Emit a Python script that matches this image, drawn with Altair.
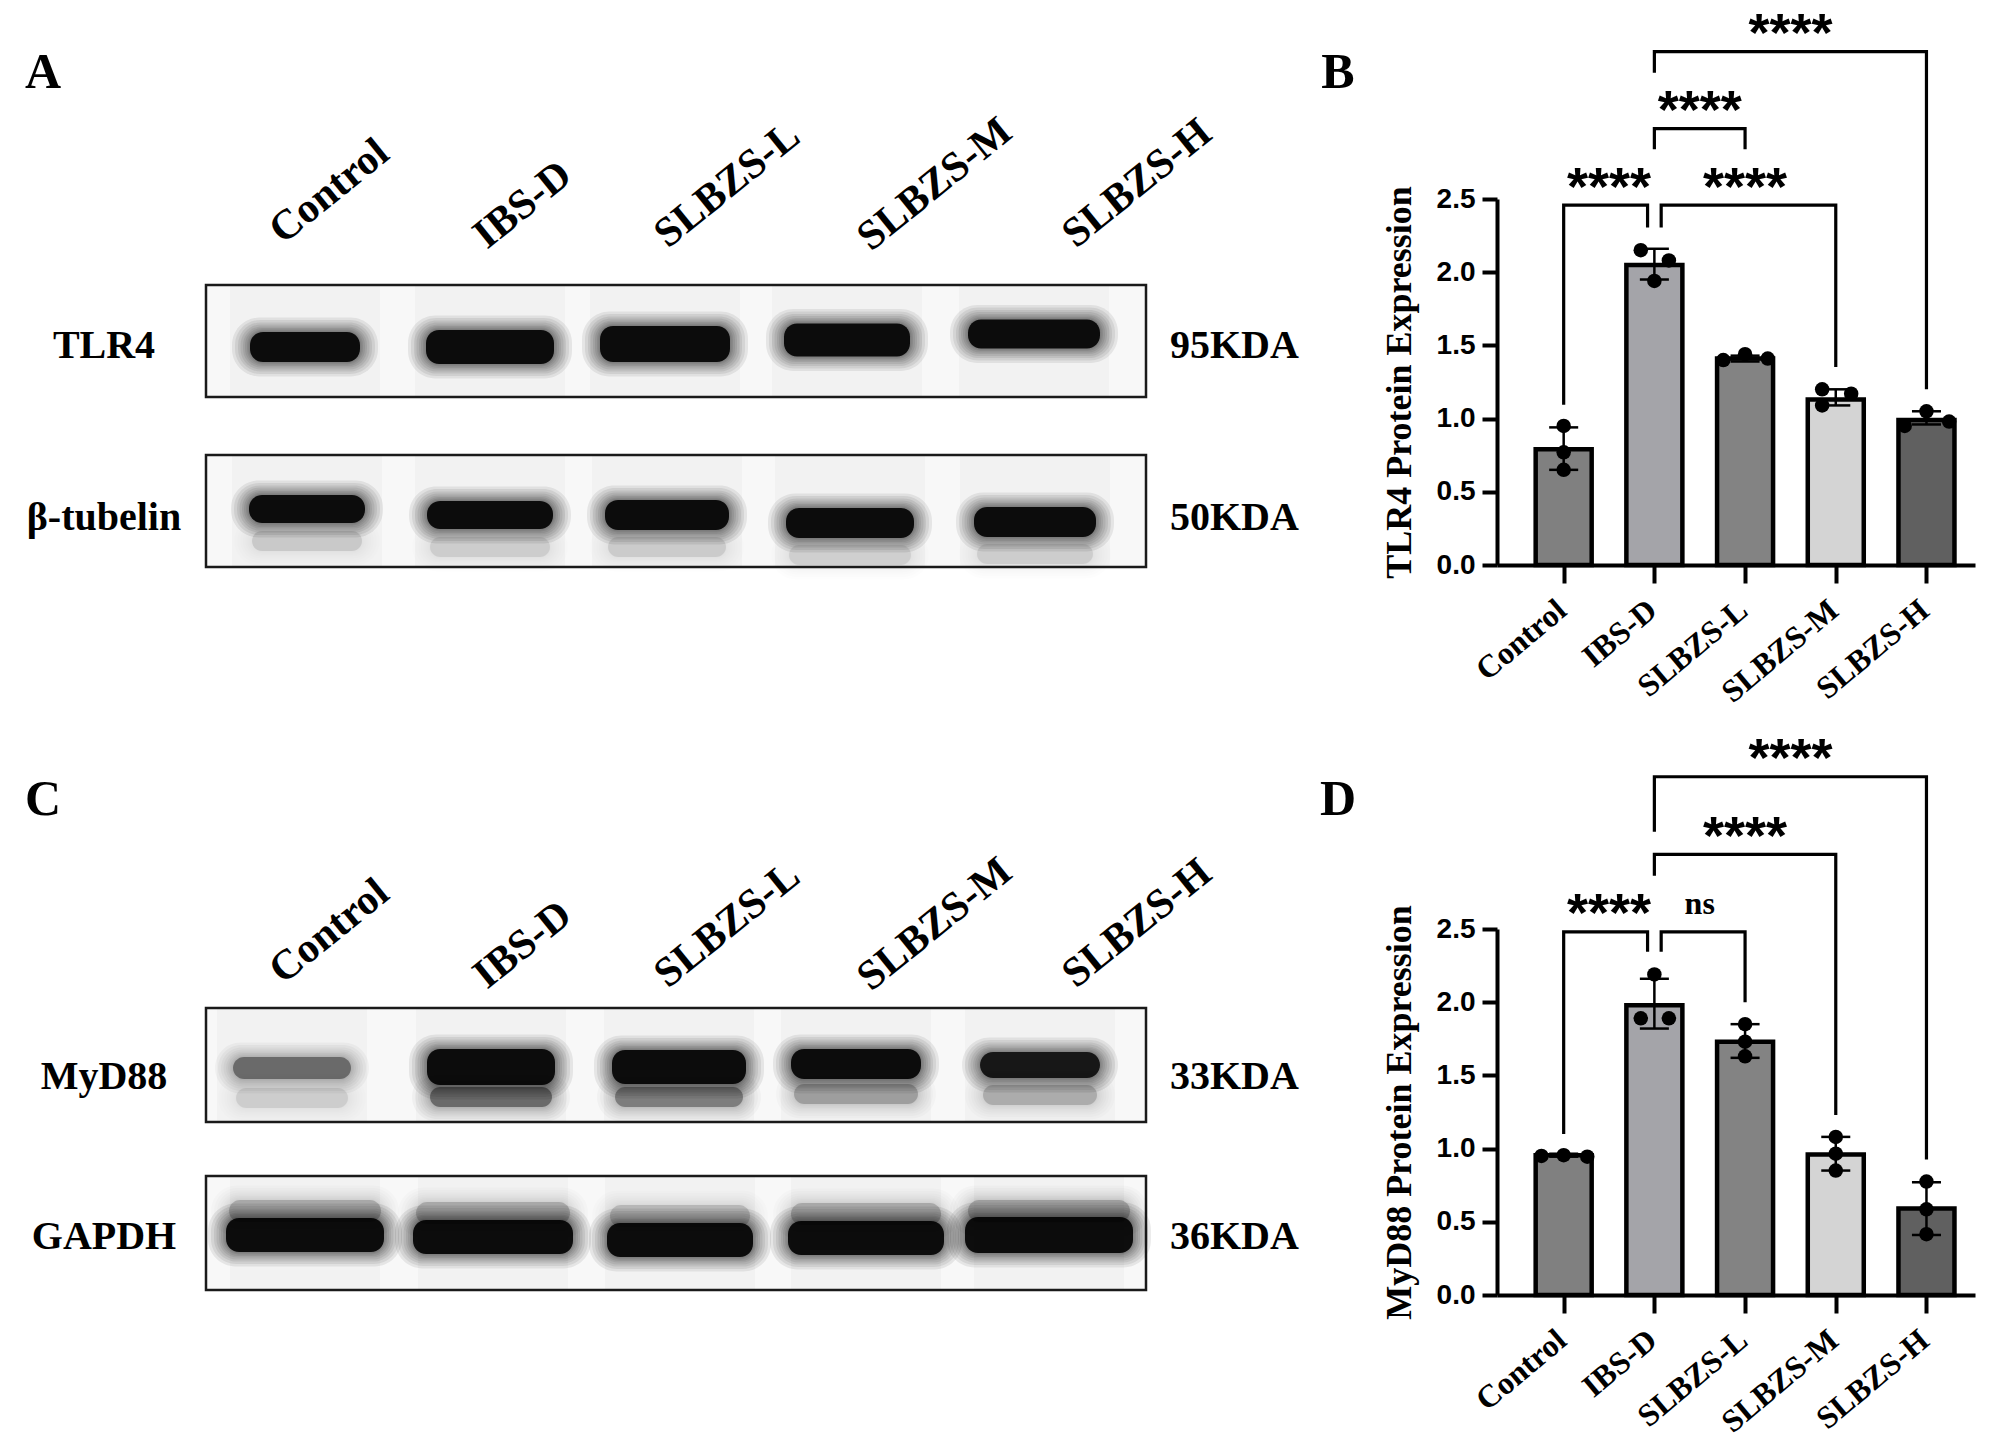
import altair as alt
import pandas as pd

# ---------------- data ----------------
groups = ["Control", "IBS-D", "SLBZS-L", "SLBZS-M", "SLBZS-H"]
bar_colors = ["#808080", "#a4a4a9", "#838383", "#d4d4d4", "#606060"]

tlr4_mean = [0.79, 2.05, 1.41, 1.13, 0.99]
tlr4_err_low = [0.65, 1.95, 1.39, 1.09, 0.96]
tlr4_err_high = [0.94, 2.16, 1.43, 1.20, 1.05]
tlr4_points = [[0.95, 0.77, 0.65], [2.15, 2.08, 1.94], [1.40, 1.44, 1.41],
               [1.20, 1.17, 1.09], [1.05, 0.95, 0.98]]
tlr4_spread = [[0, 0, 0], [-0.15, 0.16, 0], [-0.24, 0, 0.25],
               [-0.15, 0.17, -0.15], [0, -0.24, 0.25]]

myd88_mean = [0.955, 1.98, 1.73, 0.96, 0.59]
myd88_err_low = [0.945, 1.82, 1.62, 0.85, 0.41]
myd88_err_high = [0.965, 2.16, 1.85, 1.08, 0.77]
myd88_points = [[0.95, 0.955, 0.945], [2.19, 1.89, 1.89], [1.85, 1.73, 1.63],
                [1.08, 0.965, 0.85], [0.775, 0.585, 0.415]]
myd88_spread = [[-0.245, 0, 0.26], [0, -0.15, 0.16], [0, 0, 0], [0, 0, 0], [0, 0, 0]]

# comparisons: group a, group b, bracket level, leg end a, leg end b, label
tlr4_sig_a = [0, 1, 1, 1]
tlr4_sig_b = [1, 3, 2, 4]
tlr4_sig_level = [2.458, 2.458, 2.981, 3.506]
tlr4_sig_leg_a = [1.095, 2.306, 2.84, 3.363]
tlr4_sig_leg_b = [2.306, 1.352, 2.84, 1.20]
tlr4_sig_label = ["****", "****", "****", "****"]

myd88_sig_a = [0, 1, 1, 1]
myd88_sig_b = [1, 2, 3, 4]
myd88_sig_level = [2.48, 2.48, 3.01, 3.54]
myd88_sig_leg_a = [1.10, 2.344, 2.864, 3.165]
myd88_sig_leg_b = [2.344, 2.00, 1.23, 0.926]
myd88_sig_label = ["****", "ns", "****", "****"]

# blot band relative intensities (per lane)
tlr4_band = [1.0, 1.0, 1.0, 1.0, 1.0]
tubulin_band = [1.0, 1.0, 1.0, 1.0, 1.0]
tubulin_lower = [0.12, 0.10, 0.11, 0.09, 0.10]
myd88_band = [0.45, 1.0, 1.0, 1.0, 0.92]
myd88_lower = [0.10, 0.45, 0.38, 0.24, 0.20]
gapdh_band = [1.0, 1.0, 1.0, 1.0, 1.0]
gapdh_upper = [0.22, 0.22, 0.18, 0.22, 0.24]

# ---------------- layout ----------------
W_LEFT = 1469
H_LEFT = 1097
TOP = 197
XS = alt.Scale(domain=[8, 8 + W_LEFT], nice=False, zero=False)
YS = alt.Scale(domain=[TOP, TOP + H_LEFT], reverse=True, nice=False, zero=False)
SERIF = "Liberation Serif"
SANS = "Liberation Sans"

blot_rows = [
    dict(name="TLR4", kda="95KDA", box=(283, 395), label_y=342,
         cx=[305, 490, 665, 847, 1034], cy=[345, 345, 342, 338, 332],
         w=[110, 128, 130, 126, 132], h=[30, 34, 36, 33, 29], inten=tlr4_band,
         extra=None),
    dict(name="β-tubelin", kda="50KDA", box=(453, 565), label_y=514,
         cx=[307, 490, 667, 850, 1035], cy=[507, 513, 513, 521, 520],
         w=[116, 126, 124, 128, 122], h=[28, 28, 30, 30, 30], inten=tubulin_band,
         extra=(32, 20, tubulin_lower)),
    dict(name="MyD88", kda="33KDA", box=(1006, 1120), label_y=1073,
         cx=[292, 491, 679, 856, 1040], cy=[1066, 1065, 1065, 1062, 1063],
         w=[118, 128, 134, 130, 120], h=[22, 36, 34, 30, 26], inten=myd88_band,
         extra=(30, 20, myd88_lower)),
    dict(name="GAPDH", kda="36KDA", box=(1174, 1288), label_y=1233,
         cx=[305, 493, 680, 866, 1049], cy=[1233, 1235, 1238, 1236, 1233],
         w=[158, 160, 146, 156, 168], h=[34, 34, 34, 34, 36], inten=gapdh_band,
         extra=(-24, 22, gapdh_upper)),
]
BOX_X = (206, 1146)

band_rows, streak_rows, box_rows, row_text, kda_text = [], [], [], [], []
for r in blot_rows:
    y1, y2 = r["box"]
    box_rows.append(dict(x1=BOX_X[0], x2=BOX_X[1], y1=y1, y2=y2))
    row_text.append(dict(x=104, y=r["label_y"] + 14, t=r["name"]))
    kda_text.append(dict(x=1170, y=r["label_y"] + 14, t=r["kda"]))
    for i in range(5):
        streak_rows.append(dict(x1=r["cx"][i] - 75, x2=r["cx"][i] + 75, y1=y1 + 1, y2=y2 - 1))
        band_rows.append(dict(cx=r["cx"][i], cy=r["cy"][i], w=r["w"][i], h=r["h"][i],
                              inten=r["inten"][i]))
        if r["extra"] is not None:
            dy, hh, vals = r["extra"]
            band_rows.append(dict(cx=r["cx"][i], cy=r["cy"][i] + dy, w=r["w"][i] - 6,
                                  h=hh, inten=vals[i]))
bands_df = pd.DataFrame(band_rows)
streak_df = pd.DataFrame(streak_rows)
box_df = pd.DataFrame(box_rows)


def rect_enc():
    return dict(x=alt.X("x1:Q", scale=XS, axis=None), x2="x2:Q",
                y=alt.Y("y1:Q", scale=YS, axis=None), y2="y2:Q")


left_layers = []
# invisible anchor at page top
left_layers.append(alt.Chart(pd.DataFrame({"x1": [8], "x2": [20], "y1": [8], "y2": [12]}))
                   .mark_rect(opacity=0).encode(**rect_enc()))
left_layers.append(alt.Chart(box_df).mark_rect(color="#f8f8f8").encode(**rect_enc()))
left_layers.append(alt.Chart(streak_df).mark_rect(color="black", opacity=0.022).encode(**rect_enc()))

# soft-edged bands: many nested rounded rectangles of low opacity
halo_levels = [(p, 0.075) for p in (18, 15, 12, 9.5, 7, 5, 3, 1.5)] + [(0, 0.9)]
for pad, a in halo_levels:
    left_layers.append(
        alt.Chart(bands_df).transform_calculate(
            x1=f"datum.cx - datum.w/2 - {pad}", x2=f"datum.cx + datum.w/2 + {pad}",
            y1=f"datum.cy - datum.h/2 - {pad * 0.8}", y2=f"datum.cy + datum.h/2 + {pad * 0.8}",
            op=f"datum.inten * {a}",
        ).mark_rect(color="black", cornerRadius=13 + pad * 0.8).encode(
            opacity=alt.Opacity("op:Q", scale=None), **rect_enc())
    )
left_layers.append(alt.Chart(box_df).mark_rect(fillOpacity=0, stroke="#1a1a1a", strokeWidth=2.5)
                   .encode(**rect_enc()))

text_xy = dict(x=alt.X("x:Q", scale=XS, axis=None), y=alt.Y("y:Q", scale=YS, axis=None), text="t:N")

left_layers.append(alt.Chart(pd.DataFrame(row_text)).mark_text(
    font=SERIF, fontWeight="bold", fontSize=40, align="center", baseline="alphabetic", color="black"
).encode(**text_xy))
left_layers.append(alt.Chart(pd.DataFrame(kda_text)).mark_text(
    font=SERIF, fontWeight="bold", fontSize=40, align="left", baseline="alphabetic", color="black"
).encode(**text_xy))

lane_label_x = [283, 487, 668, 871, 1076]
lane_label_y = [243, 248, 247, 250, 247]
lane_rows = []
for off in (0, 740):
    for i, g in enumerate(groups):
        lane_rows.append(dict(x=lane_label_x[i], y=lane_label_y[i] + off, t=g))
left_layers.append(alt.Chart(pd.DataFrame(lane_rows)).mark_text(
    font=SERIF, fontWeight="bold", fontSize=42, align="left", baseline="alphabetic",
    angle=321, color="black"
).encode(**text_xy))

letters = pd.DataFrame({"x": [43, 1338, 43, 1338], "y": [86, 86, 813, 813], "t": ["A", "B", "C", "D"]})
left_layers.append(alt.Chart(letters).mark_text(
    font=SERIF, fontWeight="bold", fontSize=50, align="center", baseline="alphabetic", color="black"
).encode(**text_xy))

left = alt.layer(*left_layers).properties(width=W_LEFT, height=H_LEFT)


# ---------------- bar panels ----------------
def bar_panel(means, lo, hi, pts, spread, sa, sb, slevel, sla, slb, slabel, ytitle):
    n = len(groups)
    bdf = pd.DataFrame({"idx": list(range(n)), "group": groups, "mean": means,
                        "lo": lo, "hi": hi, "color": bar_colors})
    prow = []
    for i in range(n):
        for j, v in enumerate(pts[i]):
            prow.append(dict(idx=i, dx=spread[i][j], val=v))
    pdf = pd.DataFrame(prow)

    xs = alt.Scale(domain=[-0.68, 4.48], nice=False, zero=False)
    ys = alt.Scale(domain=[0, 2.5], nice=False, zero=True)
    label_expr = "[" + ",".join(f"'{g}'" for g in groups) + "][datum.value]"
    x_axis = alt.Axis(values=list(range(n)), labelExpr=label_expr, title=None, grid=False,
                      domainColor="black", domainWidth=4, tickColor="black", tickWidth=4,
                      tickSize=18, labelAngle=320, labelAlign="right", labelBaseline="top",
                      labelFont=SERIF, labelFontWeight="bold", labelFontSize=32,
                      labelColor="black", labelPadding=11, labelOffset=-12, labelOverlap=False)
    y_axis = alt.Axis(values=[0, 0.5, 1.0, 1.5, 2.0, 2.5], format=".1f", title=ytitle, grid=False,
                      domainColor="black", domainWidth=4, tickColor="black", tickWidth=4,
                      tickSize=15, labelFont=SANS, labelFontWeight="bold", labelFontSize=28,
                      labelColor="black", labelPadding=7, titleFont=SERIF, titleFontWeight="bold",
                      titleFontSize=36, titleColor="black", titlePadding=18)

    def X(f):
        return alt.X(f, scale=xs, axis=x_axis)

    def Y(f):
        return alt.Y(f, scale=ys, axis=y_axis)

    bars = alt.Chart(bdf).mark_bar(size=56, stroke="black", strokeWidth=4.5).encode(
        x=X("idx:Q"), y=Y("mean:Q"), fill=alt.Fill("color:N", scale=None))
    err = alt.Chart(bdf).mark_rule(color="black", strokeWidth=2.5).encode(
        x=X("idx:Q"), y=Y("lo:Q"), y2="hi:Q")
    caps = []
    for fld in ("lo", "hi"):
        caps.append(alt.Chart(bdf).transform_calculate(
            xl="datum.idx - 0.16", xr="datum.idx + 0.16").mark_rule(color="black", strokeWidth=2.5).encode(
            x=X("xl:Q"), x2="xr:Q", y=Y(f"{fld}:Q")))
    points = alt.Chart(pdf).transform_calculate(xp="datum.idx + datum.dx").mark_circle(
        size=210, color="black", opacity=1).encode(x=X("xp:Q"), y=Y("val:Q"))

    brow, lrow = [], []
    for k in range(len(sa)):
        a, b = sa[k], sb[k]
        low = slevel[k] < 2.6
        xa = a + (0.075 if (a == 1 and low) else 0.0)
        xb = b - (0.075 if (b == 1 and low) else 0.0)
        pts4 = [(xa, sla[k]), (xa, slevel[k]), (xb, slevel[k]), (xb, slb[k])]
        for o, (px, py) in enumerate(pts4):
            brow.append(dict(bid=k, ord=o, bx=px, by=py))
        lrow.append(dict(lx=(a + b) / 2, ly=slevel[k] + 0.168, t=slabel[k]))
    brdf = pd.DataFrame(brow)
    ldf = pd.DataFrame(lrow)
    brackets = alt.Chart(brdf).mark_line(color="black", strokeWidth=3.2, strokeJoin="miter").encode(
        x=X("bx:Q"), y=Y("by:Q"), detail="bid:N", order="ord:Q")
    stars = alt.Chart(ldf).transform_filter("datum.t != 'ns'").mark_text(
        font=SANS, fontWeight="bold", fontSize=54, baseline="alphabetic", dy=24, color="black").encode(
        x=X("lx:Q"), y=Y("ly:Q"), text="t:N")
    ns = alt.Chart(ldf).transform_filter("datum.t == 'ns'").mark_text(
        font=SERIF, fontWeight="bold", fontSize=32, baseline="alphabetic", dy=7, color="black").encode(
        x=X("lx:Q"), y=Y("ly:Q"), text="t:N")
    return alt.layer(bars, err, *caps, points, brackets, stars, ns).properties(width=478, height=366)


chart_b = bar_panel(tlr4_mean, tlr4_err_low, tlr4_err_high, tlr4_points, tlr4_spread,
                    tlr4_sig_a, tlr4_sig_b, tlr4_sig_level, tlr4_sig_leg_a, tlr4_sig_leg_b,
                    tlr4_sig_label, "TLR4 Protein Expression")
chart_d = bar_panel(myd88_mean, myd88_err_low, myd88_err_high, myd88_points, myd88_spread,
                    myd88_sig_a, myd88_sig_b, myd88_sig_level, myd88_sig_leg_a, myd88_sig_leg_b,
                    myd88_sig_label, "MyD88 Protein Expression")

right = alt.vconcat(chart_b, chart_d, spacing=364, bounds="flush")
chart = alt.hconcat(left, right, spacing=20, bounds="flush",
                    padding={"left": 0, "top": 0, "right": 5, "bottom": 5})
chart = chart.configure(background="white").configure_view(strokeWidth=0, stroke="transparent")

chart.save("out.html", embed_options={"renderer": "svg", "actions": False})
